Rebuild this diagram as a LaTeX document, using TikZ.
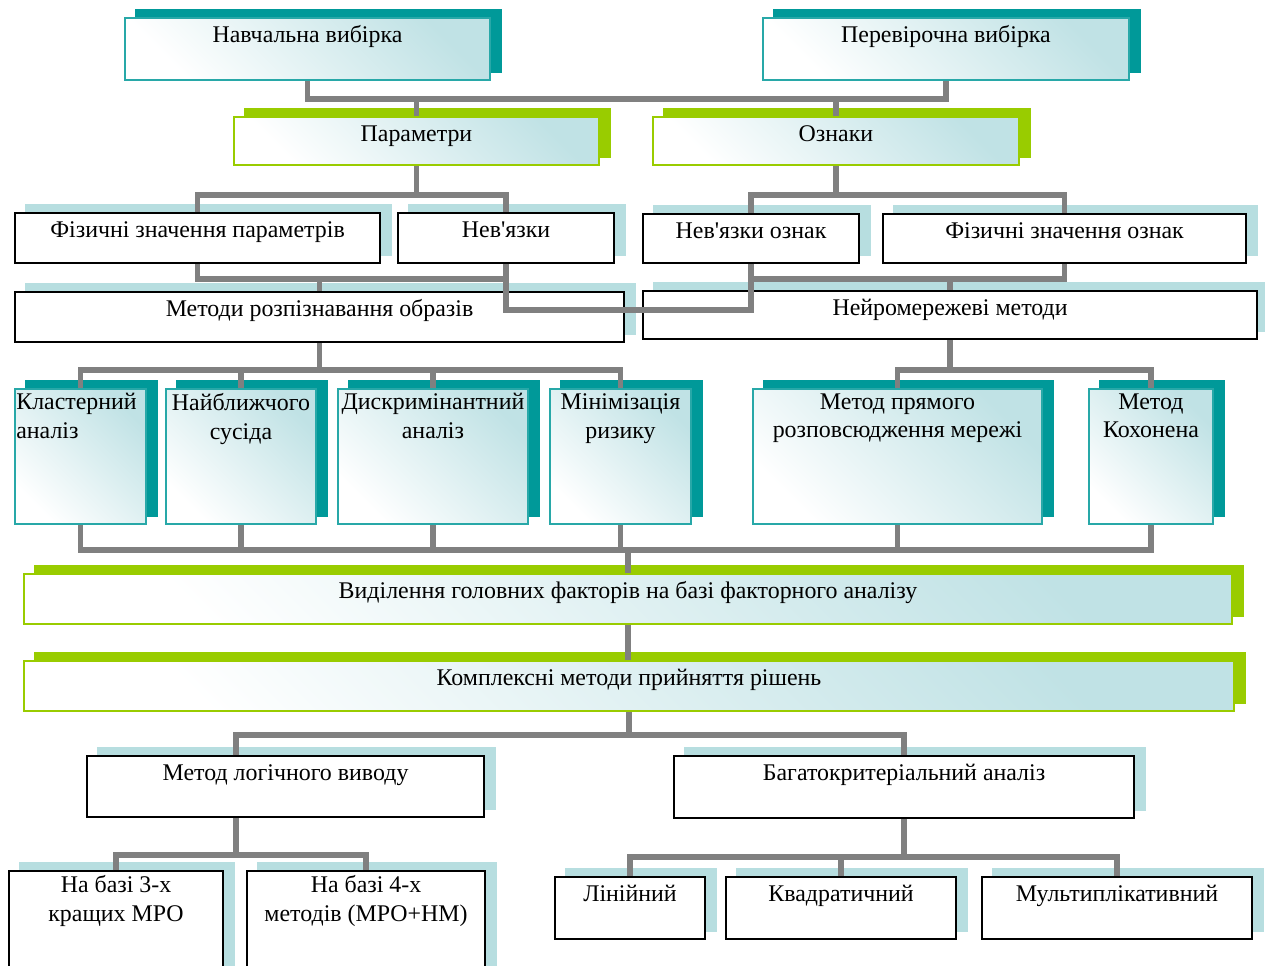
\documentclass[tikz,border=0pt]{standalone}
\usepackage{fontspec}
\setmainfont{Liberation Serif}[Ligatures=TeXOff]
\usetikzlibrary{positioning, backgrounds}

\definecolor{tealsh}{RGB}{0,153,153}
\definecolor{tealbd}{RGB}{40,168,168}
\definecolor{greensh}{RGB}{153,204,0}
\definecolor{bluesh}{RGB}{183,222,224}
\definecolor{shd}{RGB}{192,226,229}
\definecolor{linkgray}{RGB}{128,128,128}

\tikzset{
  box/.style 2 args={inner sep=0pt, anchor=north west,
    minimum width=#1*0.02cm, minimum height=#2*0.02cm},
  tbox/.style={draw=tealbd, line width=1.1pt, left color=white, middle color=white!92!shd,
    right color=shd, shading angle=135},
  gbox/.style={draw=greensh, line width=1.1pt, left color=white, middle color=white!92!shd,
    right color=shd, shading angle=135},
  wbox/.style={draw=black, line width=1.2pt, fill=white},
  lbl/.style={inner sep=0pt, align=center, font=\fontsize{13.6pt}{16.5pt}\selectfont,
    execute at begin node=\strut},
  link/.style={draw=linkgray, line width=3pt}
}

\begin{document}
\begin{tikzpicture}[x=0.02cm, y=-0.02cm]
    \useasboundingbox (0,0) rectangle (1265,965);
    \clip (0,0) rectangle (1265,965);

    % Samples
    \node[tbox, box={365}{62}] (nav) at (124,17) {};
    \node[tbox, box={366}{62}] (per) at (762,17) {};

    % Parameters and features
    \node[gbox, box={365}{48}] (par) at (233,116) {};
    \node[gbox, box={366}{48}] (ozn) at (652,116) {};

    \node[wbox, box={365}{50}] (fzp) at (14,212) {};
    \node[wbox, box={216}{50}] (nvz) at (397,212) {};
    \node[wbox, box={216}{49}] (nvo) at (642,213) {};
    \node[wbox, box={363}{49}] (fzo) at (882,213) {};

    % Method groups
    \node[wbox, box={609}{50}] (mro) at (14,291) {};
    \node[wbox, box={614}{48}] (nmm) at (642,290) {};

    \node[tbox, box={131}{135}] (kla) at (14,388) {};
    \node[tbox, box={150}{135}] (nbl) at (165,388) {};
    \node[tbox, box={190}{135}] (dys) at (337,388) {};
    \node[tbox, box={141}{135}] (miz) at (549,388) {};
    \node[tbox, box={289}{135}] (mpr) at (752,388) {};
    \node[tbox, box={124}{135}] (koh) at (1088,388) {};

    % Factor analysis and decisions
    \node[gbox, box={1208}{50}] (vyd) at (23,573) {};
    \node[gbox, box={1210}{50}] (kmp) at (23,660) {};

    \node[wbox, box={397}{61}] (mlv) at (86,755) {};
    \node[wbox, box={460}{62}] (bka) at (673,755) {};

    \node[wbox, box={214}{120}] (b3) at (8,870) {};
    \node[wbox, box={238}{120}] (b4) at (246,870) {};
    \node[wbox, box={150}{62}] (lin) at (554,876) {};
    \node[wbox, box={230}{62}] (kvd) at (725,876) {};
    \node[wbox, box={270}{62}] (mlt) at (981,876) {};

    % Shadows
    \begin{scope}[on background layer]
        \foreach \n/\c in {nav/tealsh, per/tealsh, par/greensh, ozn/greensh,
            fzp/bluesh, nvz/bluesh, nvo/bluesh, fzo/bluesh, mro/bluesh, nmm/bluesh,
            kla/tealsh, nbl/tealsh, dys/tealsh, miz/tealsh, mpr/tealsh, koh/tealsh,
            vyd/greensh, kmp/greensh, mlv/bluesh, bka/bluesh,
            b3/bluesh, b4/bluesh, lin/bluesh, kvd/bluesh, mlt/bluesh}
            \fill[\c] ([shift={(11,-8)}]\n.south west) rectangle ([shift={(11,-8)}]\n.north east);
    \end{scope}

    % Labels
    \node[lbl, below=0.1cm of nav.north] (nav-t) {Навчальна вибірка};
    \node[lbl, below=0.1cm of per.north] (per-t) {Перевірочна вибірка};
    \node[lbl, below=0.1cm of par.north] (par-t) {Параметри};
    \node[lbl, below=0.1cm of ozn.north] (ozn-t) {Ознаки};
    \node[lbl, below=0.1cm of fzp.north] (fzp-t) {Фізичні значення параметрів};
    \node[lbl, below=0.1cm of nvz.north] (nvz-t) {Нев'язки};
    \node[lbl, below=0.1cm of nvo.north] (nvo-t) {Нев'язки ознак};
    \node[lbl, below=0.1cm of fzo.north] (fzo-t) {Фізичні значення ознак};
    \node[lbl, below=0.1cm of mro.north] (mro-t) {Методи розпізнавання образів};
    \node[lbl, below=0.1cm of nmm.north] (nmm-t) {Нейромережеві методи};
    \node[lbl, align=left, below right=0.1cm and 0.04cm of kla.north west] (kla-t) {Кластерний\\аналіз};
    \node[lbl, below=0.1cm of nbl.north] (nbl-t) {Найближчого\\сусіда};
    \node[lbl, below=0.1cm of dys.north] (dys-t) {Дискримінантний\\аналіз};
    \node[lbl, below=0.1cm of miz.north] (miz-t) {Мінімізація\\ризику};
    \node[lbl, below=0.1cm of mpr.north] (mpr-t) {Метод прямого\\розповсюдження мережі};
    \node[lbl, below=0.1cm of koh.north] (koh-t) {Метод\\Кохонена};
    \node[lbl, below=0.1cm of vyd.north] (vyd-t) {Виділення головних факторів на базі факторного аналізу};
    \node[lbl, below=0.1cm of kmp.north] (kmp-t) {Комплексні методи прийняття рішень};
    \node[lbl, below=0.1cm of mlv.north] (mlv-t) {Метод логічного виводу};
    \node[lbl, below=0.1cm of bka.north] (bka-t) {Багатокритеріальний аналіз};
    \node[lbl, below=0.1cm of b3.north] (b3-t) {На базі 3-х\\кращих МРО};
    \node[lbl, below=0.1cm of b4.north] (b4-t) {На базі 4-х\\методів (МРО+НМ)};
    \node[lbl, below=0.1cm of lin.north] (lin-t) {Лінійний};
    \node[lbl, below=0.1cm of kvd.north] (kvd-t) {Квадратичний};
    \node[lbl, below=0.1cm of mlt.north] (mlt-t) {Мультиплікативний};

    % Connectors
    \draw[link] (nav.south) -- ++(0,18) -| (per.south);
    \draw[link] (par.north) -- ++(0,-19);
    \draw[link] (ozn.north) -- ++(0,-19);

    \draw[link] (par.south) -- ++(0,31);
    \draw[link] (fzp.north) -- ++(0,-17) -| (nvz.north);
    \draw[link] (ozn.south) -- ++(0,31);
    \draw[link] (nvo.north) -- ++(0,-18) -| (fzo.north);

    \draw[link] (fzp.south) -- ++(0,15) -| (nvz.south);
    \draw[link] (mro.north) -- ++(0,-14);
    \draw[link] (nvo.south) -- ++(0,15) -| (fzo.south);
    \draw[link] (nmm.north) -- ++(0,-13);
    \draw[link] (nvz.south) -- ++(0,46) -| (nvo.south);

    \draw[link] (mro.south) -- ++(0,29);
    \draw[link] (kla.north) -- ++(0,-18) -| (miz.north);
    \draw[link] (nbl.north) -- ++(0,-18);
    \draw[link] (dys.north) -- ++(0,-18);
    \draw[link] (nmm.south) -- ++(0,32);
    \draw[link] (mpr.north) -- ++(0,-18) -| (koh.north);

    \draw[link] (kla.south) -- ++(0,25) -| (koh.south);
    \foreach \n in {nbl, dys, miz, mpr}
        \draw[link] (\n.south) -- ++(0,25);
    \draw[link] (vyd.north) -- ++(0,-25);
    \draw[link] (vyd.south) -- (vyd.south |- kmp.north);

    \draw[link] (kmp.south) -- ++(0,25);
    \draw[link] ([xshift=3cm]mlv.north west) -- ++(0,-20) -| (bka.north);
    \draw[link] ([xshift=3cm]mlv.south west) -- ++(0,39);
    \draw[link] (b3.north) -- ++(0,-15) -| (b4.north);
    \draw[link] (bka.south) -- ++(0,40);
    \draw[link] (lin.north) -- ++(0,-19) -| (mlt.north);
    \draw[link] (kvd.north) -- ++(0,-19);
\end{tikzpicture}
\end{document}
